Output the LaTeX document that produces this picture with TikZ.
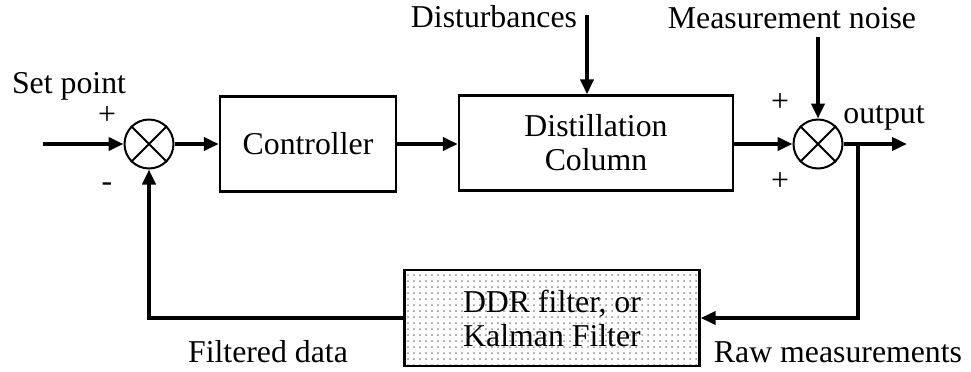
\documentclass[tikz,border=0pt]{standalone}
\usepackage{fontspec}
\setmainfont{Liberation Serif}
\usepackage{tikz}
\usetikzlibrary{arrows.meta,positioning,calc,patterns}
\definecolor{dotc}{HTML}{8C8C8C}
\newcommand{\lblfont}{\fontsize{15.9}{17}\selectfont}
\tikzset{
  box/.style={draw,line width=1.2pt,align=center,inner sep=3pt,font=\lblfont},
  boxf/.style={box,pattern=dots,pattern color=dotc},% the filter block
  summer/.style={draw,circle,line width=1pt,minimum size=24.5pt,inner sep=0pt},
  flow/.style={-{Triangle[length=7.5pt,width=6.5pt]},line width=2.2pt},
  elabel/.style={inner sep=0pt,anchor=base,font=\lblfont},
  sign/.style={inner sep=0pt,font=\lblfont},
}

\begin{document}
\begin{tikzpicture}[x=0.5pt,y=-0.5pt]
  \useasboundingbox (0,0) rectangle (971,371);
  % --- blocks ---
  \node[summer] (sum1) at (149,144){};
  \node[box,minimum width=88pt,minimum height=47.5pt] (ctrl) at (308,144){Controller};
  \node[box,minimum width=137pt,minimum height=47.5pt] (dist) at (596,143){Distillation\\Column};
  \node[summer] (sum2) at (818,144){};
  \node[boxf,minimum width=147.5pt,minimum height=48pt] (filt) at (552,318){DDR filter, or\\Kalman Filter};
  \foreach \s in {sum1,sum2}
    \draw[line width=1pt] (\s.north west) -- (\s.south east) (\s.north east) -- (\s.south west);
  % --- free ends ---
  \coordinate (sp) at (43,144);
  \coordinate (dtop) at (587,15);
  \coordinate (ntop) at (818,37);
  \coordinate (out) at (907,144);
  \coordinate (br) at (858,144);
  % --- connectors ---
  \draw[flow] (sp) -- (sum1.west);
  \draw[flow] (sum1.east) -- (ctrl.west);
  \draw[flow] (ctrl.east) -- (ctrl.east -| dist.west);
  \draw[flow] (dist.east |- sum2) -- (sum2.west);
  \draw[flow] (dtop) -- (dtop |- dist.north);
  \draw[flow] (ntop) -- (sum2.north);
  \draw[flow] (sum2.east) -- (out);
  \draw[flow] (br) |- (filt.east);
  \draw[flow] (filt.west) -| (sum1.south);
  % --- labels ---
  \node[elabel] (lsp) at (69,93){Set point};
  \node[sign] (lp1) at (107,116){+};
  \node[sign] (lm1) at (107,187){-};
  \node[elabel] (ldist) at (494,27){Disturbances};
  \node[elabel] (lnoise) at (792,28){Measurement noise};
  \node[sign] (lp2) at (780,103){+};
  \node[sign] (lp3) at (780,182){+};
  \node[elabel] (lout) at (884,123){output};
  \node[elabel] (lfilt) at (268,362){Filtered data};
  \node[elabel] (lraw) at (838,362){Raw measurements};
\end{tikzpicture}
\end{document}
